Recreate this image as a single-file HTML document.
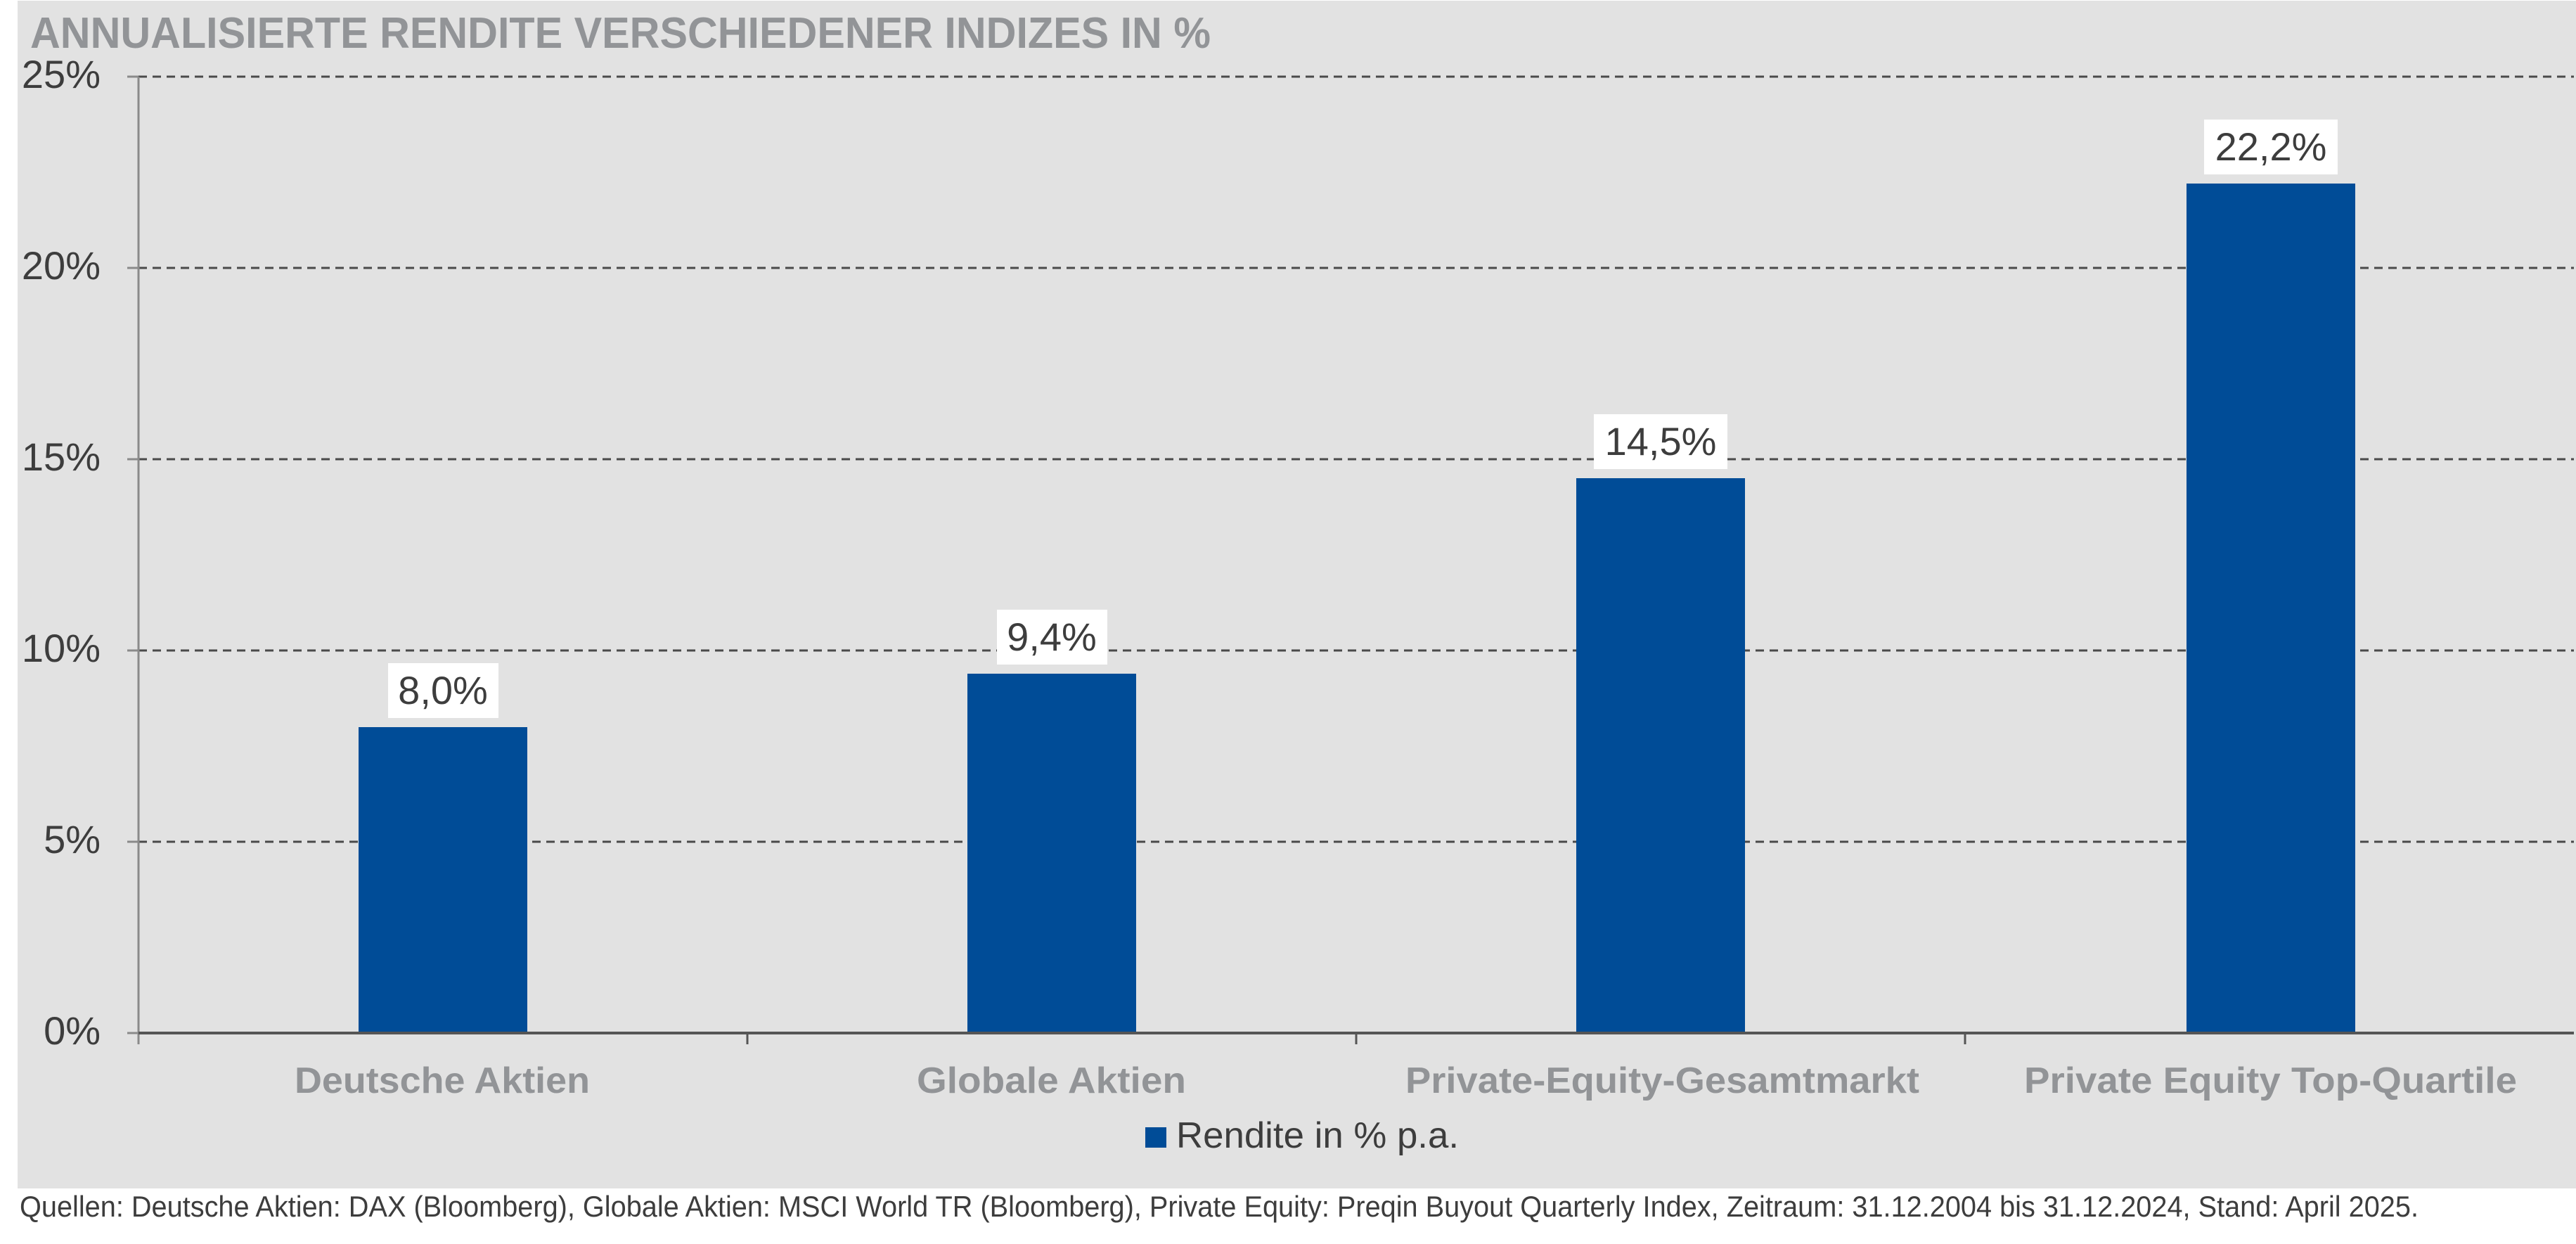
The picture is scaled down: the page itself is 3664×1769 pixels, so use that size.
<!DOCTYPE html>
<html><head><meta charset="utf-8"><style>
html,body{margin:0;padding:0;background:#fff;}
svg{display:block;}
</style></head><body>
<svg width="3664" height="1769" viewBox="0 0 3664 1769" xmlns="http://www.w3.org/2000/svg" font-family="Liberation Sans, sans-serif">
<rect x="25" y="1" width="3639" height="1689" fill="#e2e2e2"/>
<text x="43" y="68" font-size="62" font-weight="bold" fill="#929497" textLength="1679" lengthAdjust="spacingAndGlyphs">ANNUALISIERTE RENDITE VERSCHIEDENER INDIZES IN %</text>
<g stroke="#4a4a4a" stroke-width="3" stroke-dasharray="12,8">
<line x1="197" y1="109" x2="3661" y2="109"/>
<line x1="197" y1="381" x2="3661" y2="381"/>
<line x1="197" y1="653" x2="3661" y2="653"/>
<line x1="197" y1="925" x2="3661" y2="925"/>
<line x1="197" y1="1197" x2="3661" y2="1197"/>
</g>
<g stroke="#8a8a8a" stroke-width="3">
<line x1="197" y1="109" x2="197" y2="1485"/>
<line x1="181" y1="109" x2="197" y2="109"/>
<line x1="181" y1="381" x2="197" y2="381"/>
<line x1="181" y1="653" x2="197" y2="653"/>
<line x1="181" y1="925" x2="197" y2="925"/>
<line x1="181" y1="1197" x2="197" y2="1197"/>
<line x1="181" y1="1469" x2="197" y2="1469"/>
</g>
<g fill="#3d3d3d" font-size="56" text-anchor="end">
<text x="143" y="125">25%</text>
<text x="143" y="397">20%</text>
<text x="143" y="669">15%</text>
<text x="143" y="941">10%</text>
<text x="143" y="1213">5%</text>
<text x="143" y="1485">0%</text>
</g>
<g fill="#004c97">
<rect x="510" y="1034" width="240" height="435"/>
<rect x="1376" y="958" width="240" height="511"/>
<rect x="2242" y="680" width="240" height="789"/>
<rect x="3110" y="261" width="240" height="1208"/>
</g>
<line x1="197" y1="1469" x2="3661" y2="1469" stroke="#555" stroke-width="4"/>
<g stroke="#555" stroke-width="3">
<line x1="1063" y1="1469" x2="1063" y2="1485"/>
<line x1="1929" y1="1469" x2="1929" y2="1485"/>
<line x1="2795" y1="1469" x2="2795" y2="1485"/>
</g>
<g fill="#fff">
<rect x="552" y="943" width="157" height="78"/>
<rect x="1418" y="867" width="157" height="78"/>
<rect x="2267" y="589" width="190" height="78"/>
<rect x="3135" y="170" width="190" height="78"/>
</g>
<g fill="#3d3d3d" font-size="56" text-anchor="middle">
<text x="630" y="1001">8,0%</text>
<text x="1496" y="925">9,4%</text>
<text x="2362" y="647">14,5%</text>
<text x="3230" y="228">22,2%</text>
</g>
<g fill="#929497" font-size="52" font-weight="bold">
<text x="419" y="1554" textLength="420" lengthAdjust="spacingAndGlyphs">Deutsche Aktien</text>
<text x="1304" y="1554" textLength="383" lengthAdjust="spacingAndGlyphs">Globale Aktien</text>
<text x="1999" y="1554" textLength="731" lengthAdjust="spacingAndGlyphs">Private-Equity-Gesamtmarkt</text>
<text x="2879" y="1554" textLength="701" lengthAdjust="spacingAndGlyphs">Private Equity Top-Quartile</text>
</g>
<rect x="1629" y="1603" width="30" height="29" fill="#004c97"/>
<text x="1673" y="1632" font-size="52" fill="#3d3d3d" textLength="402" lengthAdjust="spacingAndGlyphs">Rendite in % p.a.</text>
<text x="28" y="1730" font-size="42" fill="#3d3d3d" textLength="3412" lengthAdjust="spacingAndGlyphs">Quellen: Deutsche Aktien: DAX (Bloomberg), Globale Aktien: MSCI World TR (Bloomberg), Private Equity: Preqin Buyout Quarterly Index, Zeitraum: 31.12.2004 bis 31.12.2024, Stand: April 2025.</text>
</svg>
</body></html>
